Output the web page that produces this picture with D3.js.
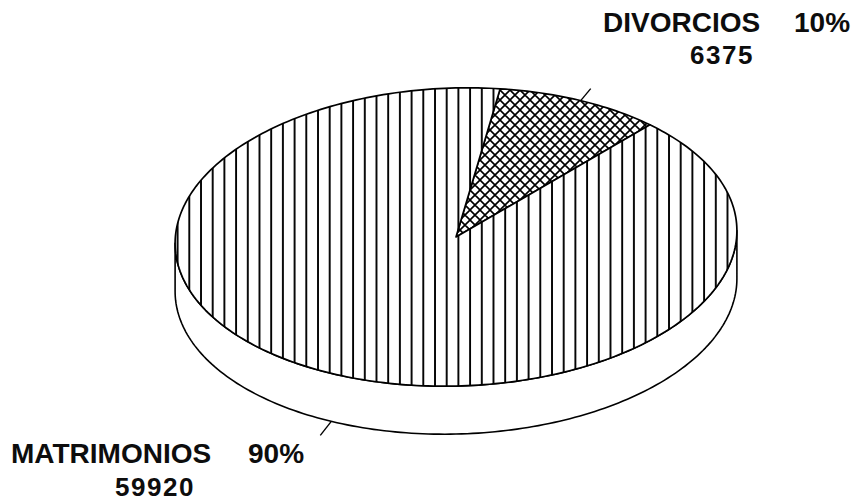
<!DOCTYPE html>
<html>
<head>
<meta charset="utf-8">
<script src="https://cdn.jsdelivr.net/npm/d3@7"></script>
<style>
  body { margin: 0; background: #fff; }
  text { font-family: "Liberation Sans", Arial, sans-serif; font-weight: bold; fill: #0d0d0d; }
</style>
</head>
<body>
<script>
// data
var categories = ["DIVORCIOS", "MATRIMONIOS"];
var values = [6375, 59920];
var percents = ["10%", "90%"];
var patterns = ["cross", "vert"];

var width = 858, height = 501;
var cx = 456, cy = 237,      // centre of the top face
    rx = 281, ry = 149,      // ellipse radii
    depth = 48,              // thickness of the disc
    tilt = -1.8 * Math.PI / 180;

var svg = d3.select("body").append("svg")
    .attr("width", width)
    .attr("height", height);

var defs = svg.append("defs");

// vertical hatch for matrimonios
var vert = defs.append("pattern")
    .attr("id", "vert")
    .attr("patternUnits", "userSpaceOnUse")
    .attr("x", 188.3 % 11.7)
    .attr("width", 11.7)
    .attr("height", 40);
vert.append("rect").attr("width", 11.7).attr("height", 40).attr("fill", "#fff");
vert.append("line")
    .attr("x1", 1).attr("x2", 1).attr("y1", 0).attr("y2", 40)
    .attr("stroke", "#000").attr("stroke-width", 1.9);

// cross hatch for divorcios
var cross = defs.append("pattern")
    .attr("id", "cross")
    .attr("patternUnits", "userSpaceOnUse")
    .attr("width", 10)
    .attr("height", 10);
cross.append("rect").attr("width", 10).attr("height", 10).attr("fill", "#fff");
cross.append("path")
    .attr("d", "M-1,-1L11,11M-1,11L11,-1M4,-6L16,6M-6,4L6,16M-6,6L6,-6M4,16L16,4")
    .attr("stroke", "#000").attr("stroke-width", 1.6);

// point on the (tilted) ellipse for a pie angle, shifted down by dy
function pt(a, dy) {
  var x = rx * Math.sin(a), y = -ry * Math.cos(a);
  return [cx + x * Math.cos(tilt) - y * Math.sin(tilt),
          cy + x * Math.sin(tilt) + y * Math.cos(tilt) + (dy || 0)];
}

function arcPoints(a0, a1, dy) {
  var n = Math.max(2, Math.ceil(Math.abs(a1 - a0) / 0.02));
  return d3.range(n + 1).map(function(i) { return pt(a0 + (a1 - a0) * i / n, dy); });
}

var start = 10 * Math.PI / 180;
var pie = d3.pie().sort(null)
    .startAngle(start)
    .endAngle(start + 2 * Math.PI);
var arcs = pie(values);

var line = d3.line();

// side of the disc: front half between the two silhouette angles
var aR = Math.atan2(rx * Math.cos(tilt), ry * Math.sin(tilt));
if (aR < 0) aR += Math.PI;
var aL = aR + Math.PI;
var sidePts = arcPoints(aR, aL, 0).concat(arcPoints(aL, aR, depth));
svg.append("path")
    .attr("d", line(sidePts) + "Z")
    .attr("fill", "#fff")
    .attr("stroke", "#000")
    .attr("stroke-width", 1.6)
    .attr("stroke-linejoin", "round");

// top face slices
svg.selectAll(".slice")
    .data(arcs)
  .enter().append("path")
    .attr("class", "slice")
    .attr("d", function(d) {
      return line([[cx, cy]].concat(arcPoints(d.startAngle, d.endAngle, 0))) + "Z";
    })
    .attr("fill", function(d, i) { return "url(#" + patterns[i] + ")"; })
    .attr("stroke", "#000")
    .attr("stroke-width", 1.7)
    .attr("stroke-linejoin", "round");

// leader ticks at the middle of each slice
var mid0 = (arcs[0].startAngle + arcs[0].endAngle) / 2;
var p0 = pt(mid0, 0), q0 = [p0[0] + 10, p0[1] - 12];
svg.append("line")
    .attr("x1", p0[0]).attr("y1", p0[1]).attr("x2", q0[0]).attr("y2", q0[1])
    .attr("stroke", "#000").attr("stroke-width", 1.4);

var mid1 = (arcs[1].startAngle + arcs[1].endAngle) / 2;
var p1 = pt(mid1, depth), q1 = [p1[0] - 11, p1[1] + 14];
svg.append("line")
    .attr("x1", p1[0]).attr("y1", p1[1]).attr("x2", q1[0]).attr("y2", q1[1])
    .attr("stroke", "#000").attr("stroke-width", 1.4);

// labels
var labels = [
  {name: [603, 32], pct: [794, 32], num: [722, 64]},
  {name: [11, 463], pct: [248, 463], num: [155, 496]}
];

labels.forEach(function(l, i) {
  svg.append("text")
      .attr("x", l.name[0]).attr("y", l.name[1])
      .attr("font-size", 28)
      .text(categories[i]);
  svg.append("text")
      .attr("x", l.pct[0]).attr("y", l.pct[1])
      .attr("font-size", 28)
      .text(percents[i]);
  svg.append("text")
      .attr("x", l.num[0]).attr("y", l.num[1])
      .attr("text-anchor", "middle")
      .attr("font-size", 26)
      .attr("letter-spacing", 1.5)
      .text(values[i]);
});
</script>
</body>
</html>
